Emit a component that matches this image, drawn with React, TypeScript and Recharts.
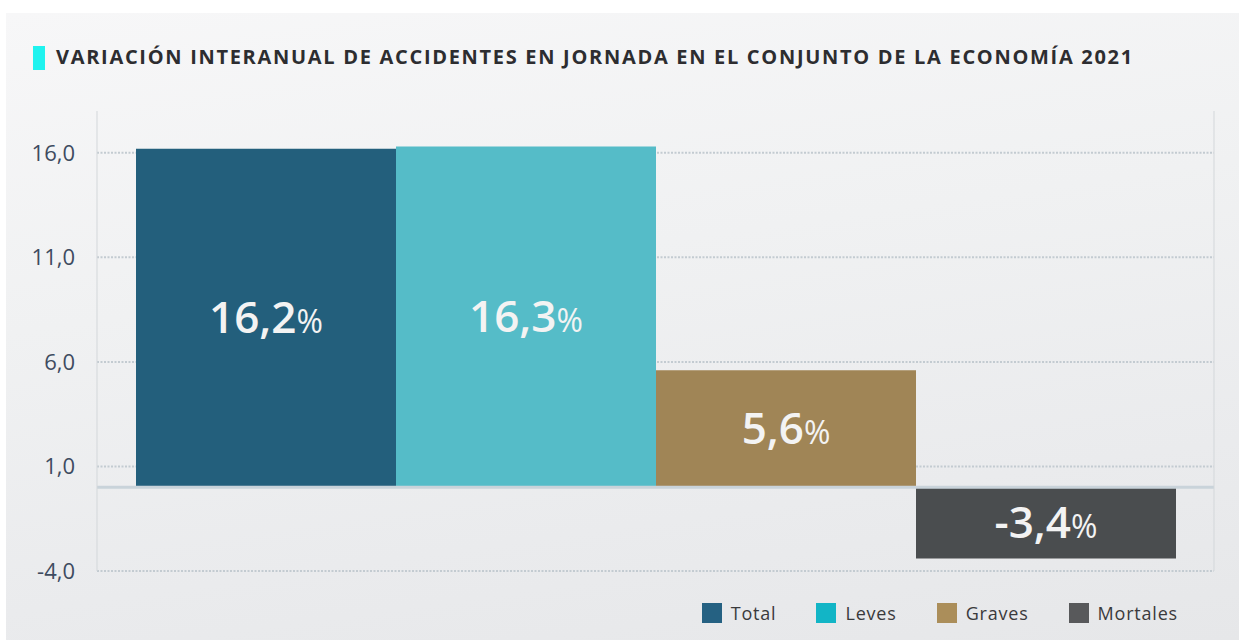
import { BarChart, Bar, XAxis, YAxis, CartesianGrid, ReferenceLine, LabelList } from 'recharts';

// one category, four series side by side
const categories = ['2021'];
const seriesNames = ['Total', 'Leves', 'Graves', 'Mortales'];
const seriesValues = [16.2, 16.3, 5.6, -3.4];
const yTicks = [-4, 1, 6, 11, 16];

const barColors = ['#235f7c', '#55bcc8', '#a08556', '#4a4d4f'];
const legendColors = ['#256182', '#12b5c6', '#ab8e5a', '#58595b'];

const data = categories.map((c) => {
  const row: Record<string, string | number> = { name: c };
  seriesNames.forEach((s, i) => (row[s] = seriesValues[i]));
  return row;
});

const fmt = (v: number) => v.toFixed(1).replace('.', ',');

const BarValue = (props: any) => {
  const { x, y, width, height, value } = props;
  const cx = x + width / 2;
  const cy = y + height / 2;
  return (
    <text x={cx} y={cy} dy={15} textAnchor="middle" fill="#f3f3f3" fontSize={44} fontFamily="'Open Sans', sans-serif">
      <tspan fontSize={44} fontWeight={600}>{fmt(value)}</tspan>
      <tspan fontSize={32} fontWeight={400}>%</tspan>
    </text>
  );
};

export default function App() {
  return (
    <div style={{ position: 'absolute', left: 0, top: 0, width: 1239, height: 640, background: '#ffffff', overflow: 'hidden' }}>
      <div
        style={{
          position: 'absolute',
          left: 6,
          top: 13,
          right: 0,
          bottom: 0,
          background: 'linear-gradient(172deg, #f7f7f8 0%, #f0f1f2 40%, #eaebed 75%, #e6e7e9 100%)',
        }}
      />
      <div style={{ position: 'absolute', left: 33, top: 46, width: 12, height: 24, background: '#1ff3ef' }} />
      <div
        style={{
          position: 'absolute',
          left: 56,
          top: 45,
          lineHeight: '24px',
          fontSize: 20,
          fontWeight: 700,
          letterSpacing: 1.7,
          color: '#2d2d30',
          fontFamily: "'Open Sans', sans-serif",
          whiteSpace: 'nowrap',
        }}
      >
        VARIACIÓN INTERANUAL DE ACCIDENTES EN JORNADA EN EL CONJUNTO DE LA ECONOMÍA 2021
      </div>

      <div style={{ position: 'absolute', left: 0, top: 0 }}>
        <BarChart
          width={1239}
          height={640}
          data={data}
          margin={{ top: 111, right: 24, bottom: 69, left: 0 }}
          barGap={0}
          barCategoryGap={39}
        >
          <CartesianGrid
            yAxisId={0}
            vertical={false}
            syncWithTicks
            stroke="#c3cbd1"
            strokeWidth={2}
            strokeDasharray="2 1.5"
          />
          <XAxis dataKey="name" hide />
          <YAxis
            yAxisId={0}
            width={97}
            domain={[-4, 18]}
            ticks={yTicks}
            interval={0}
            tickFormatter={fmt}
            tickLine={false}
            tickMargin={16}
            axisLine={{ stroke: '#d3d7da', strokeWidth: 1 }}
            tick={{ fill: '#3e4b60', fontSize: 22, fontFamily: "'Open Sans', sans-serif" }}
          />
          <YAxis
            yAxisId="right"
            orientation="right"
            width={1}
            domain={[-4, 18]}
            ticks={yTicks}
            tick={false}
            tickLine={false}
            axisLine={{ stroke: '#d3d7da', strokeWidth: 1 }}
          />
          {seriesNames.map((s, i) => (
            <Bar key={s} dataKey={s} fill={barColors[i]} isAnimationActive={false}>
              <LabelList dataKey={s} content={BarValue} />
            </Bar>
          ))}
          <ReferenceLine y={0} yAxisId={0} stroke="#c9d3da" strokeWidth={3} />
        </BarChart>
      </div>

      <div
        style={{
          position: 'absolute',
          right: 61,
          top: 603,
          display: 'flex',
          gap: 40,
          fontFamily: "'Open Sans', sans-serif",
          fontSize: 18,
          letterSpacing: 0.8,
          color: '#3a3a3c',
          lineHeight: '20px',
        }}
      >
        {seriesNames.map((s, i) => (
          <div key={s} style={{ display: 'flex', alignItems: 'center' }}>
            <span style={{ display: 'inline-block', width: 20, height: 20, background: legendColors[i], marginRight: 9 }} />
            <span>{s}</span>
          </div>
        ))}
      </div>
    </div>
  );
}
